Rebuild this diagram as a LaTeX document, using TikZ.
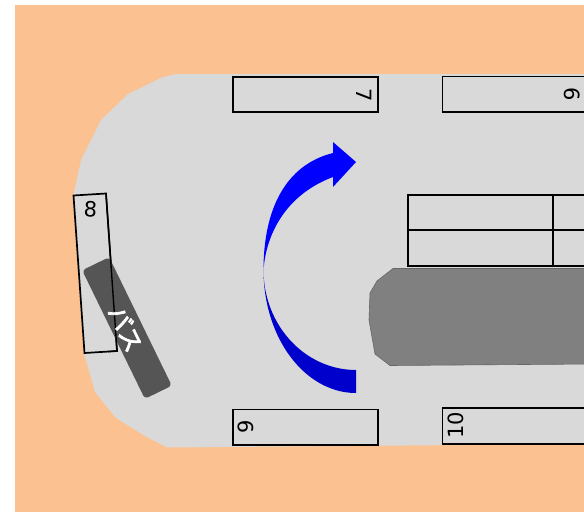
\documentclass[tikz,border=0pt]{standalone}
\usepackage{fontspec}
\setmainfont{DejaVu Sans}
\newfontfamily\cjkjp[FakeBold=3]{Noto Sans CJK JP}
\definecolor{ground}{HTML}{FBC190}
\definecolor{road}{HTML}{D9D9D9}
\definecolor{busdark}{HTML}{555555}
\definecolor{island}{HTML}{808080}
\tikzset{
  stall/.style={draw=black,line width=1.7pt,fill=road},
  stalltxt/.style={font=\fontsize{21}{21}\selectfont,text=black,inner sep=0pt},
}
\begin{document}
\begin{tikzpicture}[x=1pt,y=-1pt]
\useasboundingbox (0,0) rectangle (584,512);
\fill[ground] (15,5) rectangle (584,512);
\fill[road] (584,74) -- (176,74) -- (163,77) -- (128,94) -- (101,120) -- (81,160) -- (73,197) -- (84,353) -- (95,392) -- (116,418) -- (145,436) -- (167,447.5) -- (584,444) -- cycle;
% stalls
\draw[stall] (233,77) rectangle (378,112);
\draw[stall] (442.5,76.5) -- (590,76.5) -- (590,112) -- (442.5,112) -- cycle;
\draw[stall] (233,409.5) rectangle (378,445);
\draw[stall] (442.5,408) -- (590,408) -- (590,444) -- (442.5,444) -- cycle;
\draw[stall] (73.5,195.5) -- (106,193.5) -- (117,351) -- (84.5,353) -- cycle;
\node[stalltxt,rotate=-90] (s7) at (364,95) {7};
\node[stalltxt,rotate=-90] (s6) at (572.5,94) {6};
\node[stalltxt,rotate=90] (s9) at (245.5,427) {9};
\node[stalltxt,rotate=90] (s10) at (456,425.5) {10};
\node[stalltxt,rotate=-3.5] (s8) at (90.5,209) {8};
% seat block
\draw[draw=black,line width=2pt] (408,194.5) -- (590,194.5) (408,266) -- (590,266) (408,193.5) -- (408,267);
\draw[draw=black,line width=2.6pt] (408,230) -- (590,230) (553,193.5) -- (553,267);
% island
\draw[draw=island!80!black,line width=.6pt,fill=island] (590,268.5) -- (393,268.5) -- (377,281) -- (370,293) -- (369,320) -- (375,354) -- (390,365.5) -- (590,364) -- cycle;
% bus
\node[draw=none,fill=busdark,rounded corners=3.5pt,minimum width=30pt,minimum height=143pt,inner sep=0pt,rotate=26] (bus) at (127,328) {};
\draw[black,line width=1.4pt] (106,193.5) -- (117,351) -- (108,351.6);
\node[text=white,font=\cjkjp\fontsize{24}{24}\selectfont,rotate=-64,inner sep=0pt] (bustxt) at (126,328.5) {バス};
% arrow
\fill[blue] (263.5,270) .. controls (263.5,210) and (285,165) .. (333,153) -- (333,142) -- (356,162) -- (333,187) -- (333,177) .. controls (285,195) and (266,235) .. (263.5,270) -- cycle;
\fill[blue!80!black] plot[domain=0:90,samples=50] ({356-92.5*cos(\x)},{270+123*sin(\x)}) -- plot[domain=90:0,samples=50] ({356-92.5*cos(\x)},{270+100*sin(\x)}) -- cycle;
\end{tikzpicture}
\end{document}
